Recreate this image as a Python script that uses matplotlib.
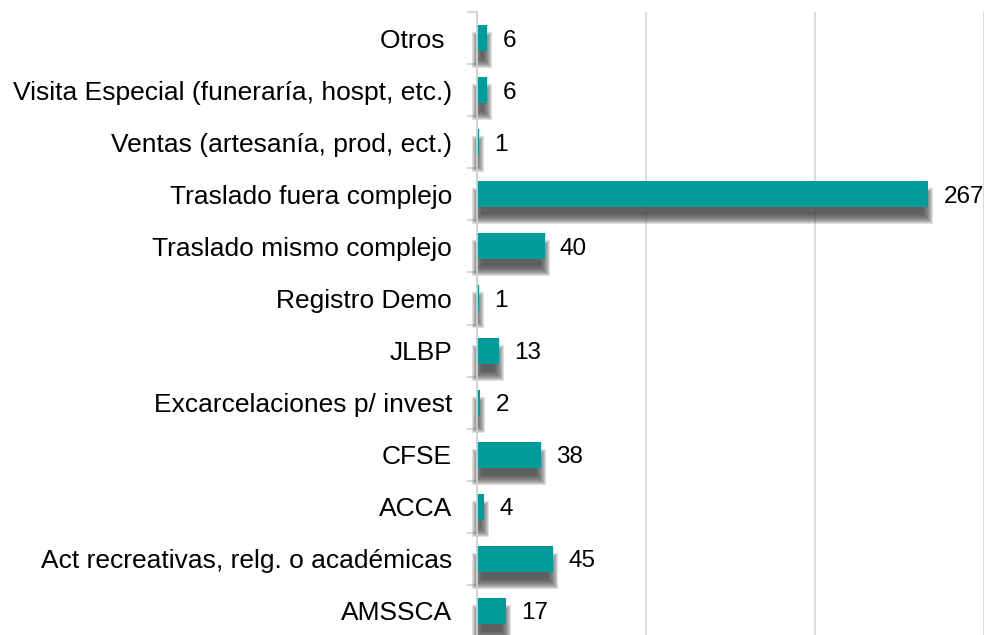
import matplotlib
matplotlib.use("Agg")
import matplotlib.pyplot as plt
from matplotlib.patches import Rectangle

categories = [
    "Otros ",
    "Visita Especial (funeraría, hospt, etc.)",
    "Ventas (artesanía, prod, ect.)",
    "Traslado fuera complejo",
    "Traslado mismo complejo",
    "Registro Demo",
    "JLBP",
    "Excarcelaciones p/ invest",
    "CFSE",
    "ACCA",
    "Act recreativas, relg. o académicas",
    "AMSSCA",
]
values = [6, 6, 1, 267, 40, 1, 13, 2, 38, 4, 45, 17]

plt.rcParams["font.family"] = ["Liberation Sans", "DejaVu Sans"]

W, H, DPI = 990, 635, 100
ax_left, ax_right, ax_top, ax_bottom = 477, 984, 12, 637
fig = plt.figure(figsize=(W / DPI, H / DPI), dpi=DPI)
ax = fig.add_axes([ax_left / W, 1 - ax_bottom / H,
                   (ax_right - ax_left) / W, (ax_bottom - ax_top) / H])

n = len(categories)
ypos = list(range(n))
bar_h = 0.5
bar_color = "#009b9b"
xmax = 300

ax.set_xlim(0, xmax)
ax.set_ylim(n - 0.5, -0.5)

# pixel -> data unit factors for the soft shadow
ux = xmax / (ax_right - ax_left)
uy = n / (ax_bottom - ax_top)

# soft drop shadows beneath the bars (stacked translucent rectangles)
dy_px, blur_px = 12, 5
for y, v in zip(ypos, values):
    for k in range(-blur_px, blur_px + 1):
        w = v + 2 * k * ux
        h = bar_h + 2 * k * uy
        if w <= 0 or h <= 0:
            continue
        ax.add_patch(Rectangle((-k * ux, y - h / 2 + dy_px * uy), w, h,
                               facecolor="#4a4a4a", edgecolor="none",
                               alpha=0.17, zorder=1, clip_on=False))

ax.barh(ypos, values, height=bar_h, color=bar_color, zorder=3)

for y, v in zip(ypos, values):
    ax.annotate(str(v), (v, y), xytext=(11, 0), textcoords="offset points",
                va="center_baseline", ha="left", fontsize=17.5,
                color="#000000", zorder=4)

ax.set_xticks([0, 100, 200, 300])
ax.xaxis.grid(True, color="#d9d9d9", linewidth=1.3, zorder=0)
ax.set_axisbelow(True)
ax.tick_params(axis="x", bottom=False, labelbottom=False)

ax.set_yticks(ypos)
ax.set_yticklabels(categories, fontsize=19)
ax.set_yticks([i - 0.5 for i in range(n + 1)], minor=True)
ax.tick_params(axis="y", which="major", length=0, pad=18)
ax.tick_params(axis="y", which="minor", length=7, width=1.2, color="#d0d0d0")

for side in ("top", "right", "bottom"):
    ax.spines[side].set_visible(False)
ax.spines["left"].set_color("#d0d0d0")
ax.spines["left"].set_linewidth(1.3)
ax.spines["left"].set_zorder(5)

fig.savefig("out.png", dpi=DPI)
